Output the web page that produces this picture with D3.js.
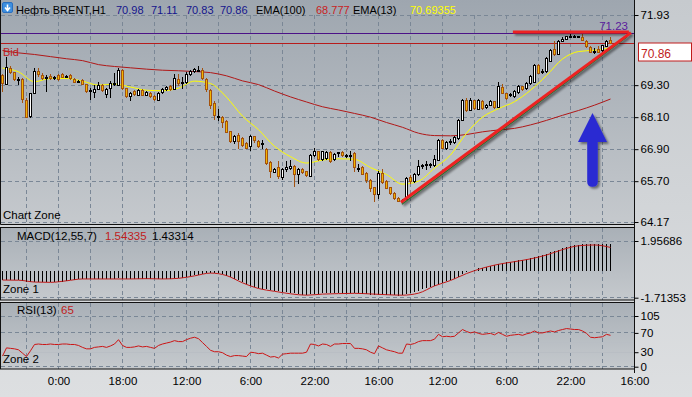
<!DOCTYPE html>
<html><head><meta charset="utf-8">
<script src="https://cdn.jsdelivr.net/npm/d3@7"></script>
<style>html,body{margin:0;padding:0;overflow:hidden;background:#d3d6d9}svg{display:block}</style>
</head><body><svg id="c" width="692" height="397"></svg>
<script>
// ---------- DATA ----------
const opens=[69.68,69.33,69.92,69.76,69.48,69.50,68.74,68.11,68.99,69.80,
69.68,69.58,69.62,69.56,69.65,69.70,69.61,69.65,69.52,69.40,
69.48,69.32,69.08,69.05,69.15,69.30,68.98,69.15,69.33,69.30,
69.86,69.17,68.85,69.05,68.92,69.10,68.92,69.00,68.88,68.75,
69.00,69.12,69.25,69.15,69.50,69.38,69.40,69.70,69.80,69.84,
69.85,69.50,69.10,68.62,68.10,68.10,67.95,67.55,67.18,67.42,
67.30,67.12,66.98,67.36,67.20,67.08,66.90,66.40,66.05,66.20,
65.86,66.12,66.18,66.25,65.95,66.15,66.05,65.90,66.65,66.80,
66.50,66.55,66.78,66.50,66.74,66.78,66.64,66.64,66.75,66.17,
66.20,66.00,65.74,65.45,65.20,66.00,65.70,65.45,65.25,65.05,
64.95,65.00,65.82,65.68,65.95,66.25,66.29,66.30,66.30,66.50,
67.24,66.93,67.17,67.15,67.30,67.99,68.74,68.36,68.72,68.42,
68.70,68.46,68.54,68.68,68.47,69.20,68.98,68.92,68.86,69.00,
69.24,69.17,69.36,69.43,70.05,69.78,69.80,70.20,70.65,70.45,
70.95,71.00,71.11,71.10,71.11,71.10,70.95,70.72,70.55,70.65,
70.58,70.78,70.98];
const highs=[69.72,70.36,70.00,69.80,69.60,69.55,68.80,69.02,69.94,69.95,
69.75,69.68,69.70,69.65,69.70,69.75,69.68,69.70,69.55,69.50,
69.52,69.35,69.20,69.30,69.40,69.35,69.20,69.45,69.75,69.95,
69.90,69.20,69.05,69.10,69.15,69.15,69.08,69.05,68.92,69.05,
69.18,69.25,69.30,69.70,69.72,69.62,69.80,69.88,69.95,70.00,
69.95,69.55,69.15,68.70,68.40,68.15,68.00,67.60,67.45,67.50,
67.35,67.18,67.45,67.40,67.25,67.25,66.95,66.45,66.20,66.45,
66.20,66.45,66.50,66.30,66.20,66.20,66.10,66.72,66.95,66.85,
66.85,66.85,66.82,66.75,66.80,66.82,66.72,66.85,66.80,66.35,
66.28,66.05,65.80,65.50,66.10,66.15,65.75,65.50,65.30,65.10,
65.02,65.85,65.95,66.00,66.50,66.35,66.45,66.40,66.70,67.30,
67.30,67.20,67.30,67.40,68.02,68.78,68.82,68.80,68.76,68.78,
68.74,68.58,68.75,68.72,69.40,69.35,69.02,69.00,69.10,69.30,
69.28,69.40,69.68,70.10,70.10,69.90,70.35,70.65,70.95,71.00,
71.10,71.15,71.20,71.18,71.16,71.23,71.00,70.78,70.68,70.75,
70.82,71.00,71.11];
const lows=[69.04,69.30,69.70,69.45,69.30,68.63,68.06,68.06,68.95,69.62,
69.50,69.05,69.50,69.50,69.45,69.55,69.55,69.48,69.40,69.38,
69.30,69.00,68.75,68.80,69.10,69.05,68.80,68.80,69.25,69.25,
69.10,68.82,68.72,68.90,68.88,68.88,68.88,68.82,68.70,68.72,
68.95,69.08,69.08,69.10,69.28,69.15,69.35,69.65,69.75,69.78,
69.50,69.05,68.40,67.99,67.95,67.68,67.50,67.15,67.10,66.90,
67.00,66.90,66.85,67.15,66.95,66.90,66.30,65.81,66.00,65.80,
65.74,66.05,66.12,65.49,65.60,65.98,65.85,65.88,66.60,66.45,
66.45,66.50,66.40,66.45,66.62,66.62,66.58,66.45,66.05,66.05,
65.92,65.65,65.30,64.93,65.05,65.60,65.40,65.18,65.00,64.93,
64.88,64.98,65.60,65.65,65.90,66.15,66.12,66.20,66.25,66.45,
66.90,66.88,67.05,67.10,67.25,67.95,68.30,68.32,68.38,68.40,
68.38,68.42,68.50,68.42,68.45,68.95,68.75,68.85,68.82,68.98,
69.08,69.12,69.32,69.40,69.70,69.70,69.76,70.15,70.40,70.42,
70.90,70.98,71.05,71.05,71.05,70.95,70.70,70.50,70.45,70.50,
70.55,70.75,70.83];
const closes=[69.38,69.95,69.76,69.50,69.50,68.74,68.11,68.99,69.80,69.68,
69.55,69.60,69.55,69.57,69.50,69.58,69.62,69.52,69.42,69.45,
69.32,69.05,69.10,69.15,69.30,69.10,69.15,69.35,69.35,69.86,
69.17,68.86,68.98,68.95,69.10,68.92,69.02,68.88,68.75,69.00,
69.12,69.20,69.12,69.55,69.35,69.40,69.70,69.80,69.88,69.86,
69.55,69.11,68.55,68.18,68.12,67.92,67.55,67.17,67.36,67.20,
67.05,66.95,67.36,67.20,67.00,67.10,66.36,66.05,66.15,65.86,
66.15,66.20,66.25,65.95,66.15,66.05,65.90,66.68,66.80,66.50,
66.80,66.78,66.45,66.70,66.76,66.68,66.66,66.66,66.24,66.19,
65.95,65.74,65.43,65.18,65.99,65.67,65.44,65.24,65.06,64.95,
64.98,65.80,65.68,65.95,66.24,66.27,66.31,66.32,66.51,67.24,
66.93,67.15,67.19,67.35,67.99,68.74,68.36,68.72,68.42,68.74,
68.45,68.54,68.70,68.47,69.24,68.98,68.80,68.94,69.05,69.24,
69.11,69.36,69.64,70.05,69.74,69.80,70.30,70.61,70.45,70.95,
71.02,71.12,71.13,71.12,71.12,70.98,70.75,70.55,70.57,70.55,
70.78,70.95,70.86];
// EMA lines read every 4 bars (bar index = 4*k)
const emaStep=4;
const ema13=[69.94,69.80,69.43,69.55,69.55,69.45,69.30,69.34,69.23,69.11,69.09,69.19,69.45,69.36,68.85,68.14,67.63,67.01,66.62,66.38,66.49,66.54,66.52,66.21,65.95,65.59,65.70,66.19,66.68,67.50,68.10,68.42,68.68,69.11,69.66,70.28,70.56,70.61,70.70];
const ema100=[70.60,70.51,70.45,70.37,70.29,70.22,70.07,70.00,69.95,69.90,69.86,69.84,69.81,69.77,69.65,69.46,69.32,69.08,68.86,68.67,68.49,68.37,68.24,68.10,67.90,67.72,67.50,67.41,67.40,67.45,67.55,67.62,67.68,67.81,67.98,68.17,68.35,68.55,68.78];
// MACD(12,55,7) histogram (per bar) and red line (every 4 bars)
const macdHist=[-0.55,-0.55,-0.56,-0.58,-0.60,-0.63,-0.68,-0.72,-0.72,-0.72,
-0.72,-0.72,-0.71,-0.71,-0.70,-0.67,-0.63,-0.60,-0.57,-0.52,
-0.52,-0.53,-0.53,-0.52,-0.52,-0.51,-0.51,-0.50,-0.48,-0.47,
-0.48,-0.50,-0.51,-0.50,-0.49,-0.48,-0.49,-0.50,-0.51,-0.51,
-0.50,-0.49,-0.48,-0.46,-0.44,-0.42,-0.38,-0.33,-0.27,-0.22,
-0.17,-0.13,-0.10,-0.11,-0.14,-0.20,-0.28,-0.38,-0.48,-0.60,
-0.72,-0.84,-0.95,-1.03,-1.08,-1.12,-1.17,-1.22,-1.26,-1.30,
-1.34,-1.37,-1.40,-1.44,-1.48,-1.51,-1.53,-1.50,-1.47,-1.45,
-1.43,-1.42,-1.41,-1.40,-1.40,-1.39,-1.39,-1.40,-1.42,-1.44,
-1.46,-1.49,-1.52,-1.55,-1.52,-1.52,-1.53,-1.55,-1.57,-1.58,
-1.55,-1.45,-1.40,-1.33,-1.25,-1.18,-1.10,-1.02,-0.95,-0.82,
-0.74,-0.66,-0.58,-0.50,-0.35,-0.18,-0.08,0.02,0.10,0.18,
0.24,0.30,0.36,0.40,0.50,0.55,0.58,0.62,0.66,0.70,
0.73,0.78,0.85,0.95,1.00,1.05,1.12,1.22,1.30,1.40,
1.48,1.56,1.62,1.68,1.73,1.76,1.77,1.77,1.76,1.75,
1.75,1.76,1.76];
const macdSignal=[-0.57,-0.58,-0.70,-0.72,-0.62,-0.50,-0.50,-0.50,-0.50,-0.48,-0.50,-0.46,-0.30,-0.12,-0.28,-0.75,-1.12,-1.30,-1.46,-1.55,-1.48,-1.45,-1.43,-1.47,-1.52,-1.55,-1.42,-0.95,-0.60,-0.15,0.20,0.45,0.62,0.80,1.05,1.40,1.65,1.70,1.54];
// RSI(13) per bar
const rsi=[22,39,38,37,35,28,21,33,46,47,46,46,47,46,46,47,47,46,46,44,
40,37,37,40,41,42,40,43,47,56,44,40,40,41,43,41,42,40,38,44,
47,49,51,54,52,52,56,59,61,58,50,42,34,31,31,29,24,21,23,23,
22,21,30,29,27,28,24,20,21,18,26,27,28,28,28,28,30,47,46,43,
47,46,42,47,47,48,48,48,38,38,37,35,30,27,43,39,35,33,31,28,
28,47,46,48,52,54,54,54,57,67,62,63,62,63,70,77,73,70,72,69,
67,68,69,66,71,67,63,65,66,67,65,68,70,74,70,70,72,74,72,75,
77,79,78,77,77,74,69,61,60,61,62,67,65];
// axes
const priceTicks=[71.93,69.30,68.10,66.90,65.70,64.17];
const macdTicks=[1.95686,-1.71353];
const rsiTicks=[105,70,30,0];
const timeTickIdx=[14,30,46,62,78,94,110,126,142,158];
const timeLabels=["0:00","18:00","12:00","6:00","22:00","16:00","12:00","6:00","22:00","16:00"];
const gridIdx=[6,14,22,30,38,46,54,62,70,78,86,94,102,110,118,126,134,142,150];
// levels and drawings
const bidPrice=70.86, highLine=71.23;
const trendLine=[[99.6,64.91],[157.1,71.27]];
const resistLine=[[127.6,71.29],[156.6,71.29]];
const arrowTip=[147.5,68.26], arrowBase=67.17, arrowBottom=65.49;
const header=[{t:"Нефть BRENT,H1",x:16,c:"#000",w:90},{t:"70.98",x:116,c:"#14148c"},{t:"71.11",x:151,c:"#14148c"},{t:"70.83",x:186,c:"#14148c"},{t:"70.86",x:220,c:"#14148c"},{t:"EMA(100)",x:256,c:"#000"},{t:"68.777",x:316,c:"#c81e1e"},{t:"EMA(13)",x:353,c:"#000"},{t:"70.69355",x:410,c:"#ffff00"}];

// ---------- DRAW ----------
const svg=d3.select("#c");
const FONT='"Liberation Sans",Arial,sans-serif';
const defs=svg.append("defs");
function grad(id,c1,c2){const g=defs.append("linearGradient").attr("id",id).attr("x1",0).attr("y1",0).attr("x2",0).attr("y2",1);
g.append("stop").attr("offset","0%").attr("stop-color",c1);g.append("stop").attr("offset","100%").attr("stop-color",c2);}
grad("gPage","#c6cace","#dddfe1");
grad("gMain","#9ea6af","#c5c9cd");
grad("gSub","#a9b0b7","#c5c9cd");
const sh=defs.append("filter").attr("id","shadow").attr("x","-20%").attr("y","-20%").attr("width","150%").attr("height","150%");
sh.append("feGaussianBlur").attr("in","SourceAlpha").attr("stdDeviation",1.2).attr("result","b");
sh.append("feOffset").attr("in","b").attr("dx",1.5).attr("dy",2).attr("result","o");
sh.append("feComponentTransfer").attr("in","o").attr("result","o2").append("feFuncA").attr("type","linear").attr("slope",0.45);
const mg=sh.append("feMerge");mg.append("feMergeNode").attr("in","o2");mg.append("feMergeNode").attr("in","SourceGraphic");
defs.append("clipPath").attr("id","clipMain").append("rect").attr("x",0).attr("y",0).attr("width",634).attr("height",224);
defs.append("clipPath").attr("id","clipM").append("rect").attr("x",0).attr("y",228).attr("width",634).attr("height",72);
defs.append("clipPath").attr("id","clipR").append("rect").attr("x",0).attr("y",303).attr("width",634).attr("height",66);

svg.append("rect").attr("width",692).attr("height",397).attr("fill","url(#gPage)");
svg.append("rect").attr("x",0.5).attr("y",-1).attr("width",634).attr("height",225.5).attr("fill","url(#gMain)");
svg.append("rect").attr("x",0.5).attr("y",227.5).attr("width",634).attr("height",72.5).attr("fill","url(#gSub)");
svg.append("rect").attr("x",0.5).attr("y",302.5).attr("width",634).attr("height",66.5).attr("fill","url(#gSub)");

const x=d3.scaleLinear().domain([0,158]).range([2.5,634.5]);
const yP=d3.scaleLinear().domain([64.17,71.93]).range([222,15]);
const yM=d3.scaleLinear().domain([-1.71353,1.95686]).range([297.7,241]);
const yR=d3.scaleLinear().domain([0,105]).range([366.7,316]);
const px=v=>Math.round(v-0.5)+0.5;

// grid
const grid=svg.append("g").attr("stroke","#7a8796").attr("stroke-dasharray","4,3").attr("stroke-width",1);
const vSpans=[[15,224],[228,300],[303,369]];
vSpans.forEach(s=>grid.selectAll(null).data(gridIdx).join("line").attr("x1",d=>x(d)).attr("x2",d=>x(d)).attr("y1",s[0]).attr("y2",s[1]));
grid.selectAll(null).data(priceTicks).join("line").attr("x1",1).attr("x2",634).attr("y1",d=>px(yP(d))).attr("y2",d=>px(yP(d)));
grid.selectAll(null).data(macdTicks).join("line").attr("x1",1).attr("x2",634).attr("y1",d=>px(yM(d))).attr("y2",d=>px(yM(d)));
grid.selectAll(null).data(rsiTicks).join("line").attr("x1",1).attr("x2",634).attr("y1",d=>px(yR(d))).attr("y2",d=>px(yR(d)));
svg.append("g").attr("stroke","#b9bec4").attr("stroke-width",1).selectAll("line").data([50,30]).join("line")
 .attr("x1",1).attr("x2",634).attr("y1",d=>px(yR(d))).attr("y2",d=>px(yR(d)));

// main pane lines
const gm=svg.append("g").attr("clip-path","url(#clipMain)");
gm.append("line").attr("x1",1).attr("x2",634).attr("y1",px(yP(highLine))).attr("y2",px(yP(highLine))).attr("stroke","#4b1288").attr("stroke-width",1);
gm.append("line").attr("x1",1).attr("x2",634).attr("y1",px(yP(bidPrice))).attr("y2",px(yP(bidPrice))).attr("stroke","#b81c1c").attr("stroke-width",1);
const lineE=d3.line().x((d,k)=>x(k*emaStep)).y(d=>yP(d)).curve(d3.curveMonotoneX);
gm.append("path").datum(ema100).attr("d",lineE).attr("fill","none").attr("stroke","#b01818").attr("stroke-width",1);
gm.append("path").datum(ema13).attr("d",lineE).attr("fill","none").attr("stroke","#ffff00").attr("stroke-width",1);

const candles=d3.range(closes.length).map(i=>({i,o:opens[i],h:highs[i],l:lows[i],c:closes[i],up:closes[i]>=opens[i]}));
gm.append("g").selectAll("line").data(candles).join("line")
 .attr("x1",d=>x(d.i)).attr("x2",d=>x(d.i)).attr("y1",d=>Math.round(yP(d.h))).attr("y2",d=>Math.round(yP(d.l)))
 .attr("stroke",d=>d.up?"#000":"#a3520e");
gm.append("g").selectAll("rect").data(candles).join("rect")
 .attr("x",d=>x(d.i)-1).attr("width",2)
 .attr("y",d=>px(yP(Math.max(d.o,d.c))))
 .attr("height",d=>Math.max(1,Math.round(Math.abs(yP(d.o)-yP(d.c)))))
 .attr("fill",d=>d.up?"#ffffff":"#f2b600").attr("stroke",d=>d.up?"#000":"#a3520e").attr("stroke-width",1);

// drawings
const gd=gm.append("g").attr("filter","url(#shadow)");
gd.append("line").attr("x1",x(trendLine[0][0])+1).attr("y1",yP(trendLine[0][1])+2).attr("x2",x(trendLine[1][0])-4).attr("y2",yP(trendLine[1][1])+4.5).attr("stroke","#2f6a30").attr("stroke-width",1.2);
gd.append("line").attr("x1",x(trendLine[0][0])).attr("y1",yP(trendLine[0][1])).attr("x2",x(trendLine[1][0])).attr("y2",yP(trendLine[1][1])).attr("stroke","#ee2222").attr("stroke-width",3);
gd.append("line").attr("x1",x(resistLine[0][0])).attr("y1",yP(resistLine[0][1])).attr("x2",x(resistLine[1][0])).attr("y2",yP(resistLine[1][1])).attr("stroke","#ee2222").attr("stroke-width",3);
{const cx=x(arrowTip[0]),ty=yP(arrowTip[1]),by=yP(arrowBase),bb=yP(arrowBottom),hw=14.5,sw=5.3;
 const p=d3.path();p.moveTo(cx,ty);p.lineTo(cx+hw,by);p.lineTo(cx+sw,by);p.lineTo(cx+sw,bb-5);p.quadraticCurveTo(cx+sw,bb,cx,bb);
 p.quadraticCurveTo(cx-sw,bb,cx-sw,bb-5);p.lineTo(cx-sw,by);p.lineTo(cx-hw,by);p.closePath();
 gd.append("path").attr("d",p.toString()).attr("fill","#2a2ad2");}

// macd
const gM=svg.append("g").attr("clip-path","url(#clipM)");
gM.append("g").selectAll("line").data(macdHist).join("line").attr("x1",(d,i)=>x(i)).attr("x2",(d,i)=>x(i))
 .attr("y1",Math.round(yM(0))).attr("y2",d=>Math.round(yM(d))).attr("stroke","#000").attr("stroke-width",1);
gM.append("path").datum(macdSignal).attr("d",d3.line().x((d,k)=>x(k*emaStep)).y(d=>yM(d)).curve(d3.curveMonotoneX))
 .attr("fill","none").attr("stroke","#c21a1a").attr("stroke-width",1);
// rsi
const gR=svg.append("g").attr("clip-path","url(#clipR)");
gR.append("path").datum(rsi).attr("d",d3.line().x((d,i)=>x(i)).y(d=>yR(d))).attr("fill","none").attr("stroke","#cc1515").attr("stroke-width",1);

// borders
const bord=svg.append("g").attr("fill","none").attr("stroke","#111").attr("stroke-width",1);
bord.append("path").attr("d","M0.5,0V224.5H634.5");
bord.append("rect").attr("x",0.5).attr("y",227.5).attr("width",634).attr("height",72.5);
bord.append("rect").attr("x",0.5).attr("y",302.5).attr("width",634).attr("height",66.5);
bord.append("line").attr("x1",634.5).attr("x2",634.5).attr("y1",0).attr("y2",373);

// axes
function styleAxis(g){g.select(".domain").remove();g.selectAll("text").attr("font-family",FONT).attr("font-size","11.5px").attr("fill","#000");g.selectAll(".tick line").attr("stroke","#000");}
svg.append("g").attr("transform","translate(634.5,0)").call(d3.axisRight(yP).tickValues(priceTicks).tickSize(4).tickPadding(2).tickFormat(d3.format(".2f"))).call(styleAxis);
svg.append("g").attr("transform","translate(634.5,0)").call(d3.axisRight(yM).tickValues(macdTicks).tickSize(4).tickPadding(2).tickFormat(d=>d.toFixed(5))).call(styleAxis);
svg.append("g").attr("transform","translate(634.5,0)").call(d3.axisRight(yR).tickValues(rsiTicks).tickSize(4).tickPadding(2).tickFormat(d3.format("d"))).call(styleAxis);
svg.append("g").attr("transform","translate(0,373)").call(d3.axisBottom(x).tickValues(timeTickIdx).tickSize(0).tickPadding(4).tickFormat((d,k)=>timeLabels[k])).call(styleAxis);

// price labels
svg.append("rect").attr("x",638.5).attr("y",px(yP(bidPrice))-0.5).attr("width",53).attr("height",18).attr("fill","#fff").attr("stroke","#c01c1c");
svg.append("text").attr("x",641).attr("y",yP(bidPrice)+14).text(bidPrice.toFixed(2)).attr("fill","#c01c1c").attr("font-family",FONT).attr("font-size","12px");
svg.append("text").attr("x",628).attr("y",yP(highLine)-4).attr("text-anchor","end").text(highLine.toFixed(2)).attr("fill","#5a1a9c").attr("font-family",FONT).attr("font-size","11.5px");
svg.append("text").attr("x",3).attr("y",yP(bidPrice)+12).text("Bid").attr("fill","#c01c1c").attr("font-family",FONT).attr("font-size","11px");

// header
const hg=svg.append("g").attr("font-family",FONT).attr("font-size","11px");
hg.selectAll("text").data(header).join("text").attr("x",d=>d.x).attr("y",14).attr("fill",d=>d.c).text(d=>d.t)
 .each(function(d){if(d.w)d3.select(this).attr("textLength",d.w).attr("lengthAdjust","spacingAndGlyphs");});
svg.append("rect").attr("x",2.5).attr("y",2.5).attr("width",10).attr("height",10).attr("rx",1.5).attr("fill","#3d8fe0").attr("stroke","#2a6fc0");
svg.append("path").attr("d","M7.5,4.5V9.5M5,7.5L7.5,10.5L10,7.5").attr("stroke","#fff").attr("stroke-width",1.6).attr("fill","none");

const lab=svg.append("g").attr("font-family",FONT).attr("font-size","11.5px");
lab.append("text").attr("x",3).attr("y",219).text("Chart Zone");
lab.append("text").attr("x",3).attr("y",293).text("Zone 1");
lab.append("text").attr("x",3).attr("y",363).text("Zone 2");
lab.append("text").attr("x",17).attr("y",240).text("MACD(12,55,7)");
lab.append("text").attr("x",105).attr("y",240).attr("fill","#c01c1c").text("1.54335");
lab.append("text").attr("x",152).attr("y",240).text("1.43314");
lab.append("text").attr("x",17).attr("y",314).text("RSI(13)");
lab.append("text").attr("x",61).attr("y",314).attr("fill","#c01c1c").text("65");
</script></body></html>
